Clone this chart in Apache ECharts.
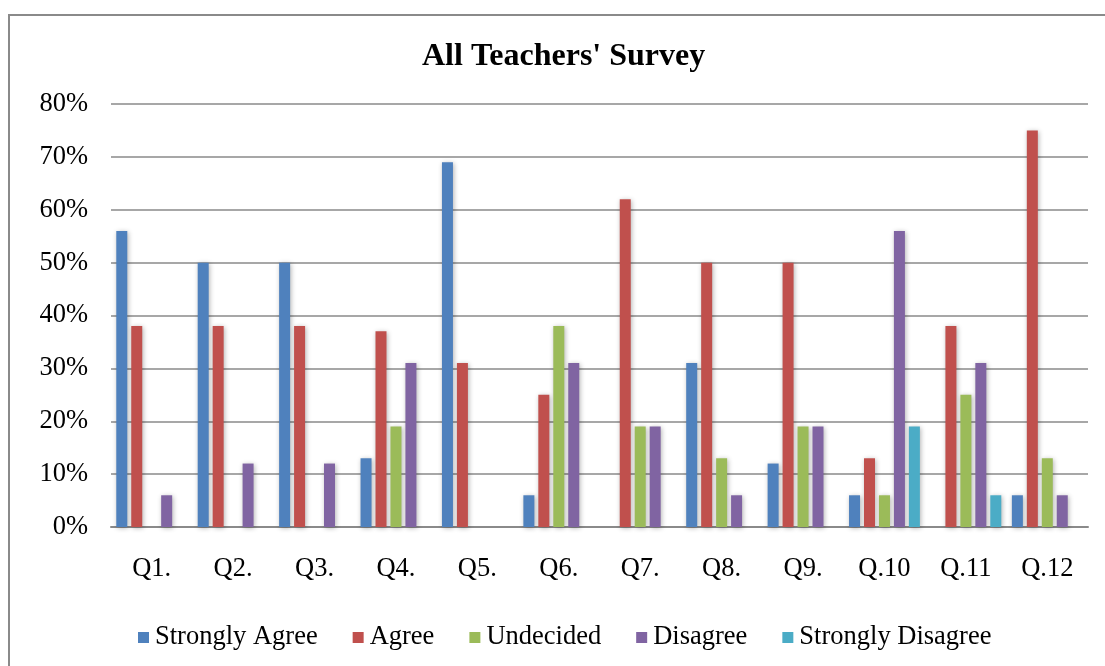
<!DOCTYPE html>
<html>
<head>
<meta charset="utf-8">
<script src="https://cdn.jsdelivr.net/npm/echarts@6/dist/echarts.min.js"></script>
<style>html,body{margin:0;padding:0;background:#fff}#c{width:1105px;height:666px}</style>
</head>
<body>
<div id="c"></div>
<script>
const categories = ['Q1.', 'Q2.', 'Q3.', 'Q4.', 'Q5.', 'Q6.', 'Q7.', 'Q8.', 'Q9.', 'Q.10', 'Q.11', 'Q.12'];
const yTicks = [0, 10, 20, 30, 40, 50, 60, 70, 80];
const stronglyAgree    = [56, 50, 50, 13, 69, 6, null, 31, 12, 6, null, 6];
const agree            = [38, 38, 38, 37, 31, 25, 62, 50, 50, 13, 38, 75];
const undecided        = [null, null, null, 19, null, 38, 19, 13, 19, 6, 25, 13];
const disagree         = [6, 12, 12, 31, null, 31, 19, 6, 19, 56, 31, 6];
const stronglyDisagree = [null, null, null, null, null, null, null, null, null, 19, 6, null];

const seriesNames = ['Strongly Agree', 'Agree', 'Undecided', 'Disagree', 'Strongly Disagree'];
const seriesData = [stronglyAgree, agree, undecided, disagree, stronglyDisagree];
const colors = ['#4F81BD', '#C0504D', '#9BBB59', '#8064A2', '#4BACC6'];
const font = '"Liberation Serif", "Times New Roman", serif';

const chart = echarts.init(document.getElementById('c'));
chart.setOption({
  animation: false,
  color: colors,
  title: {
    text: "All Teachers' Survey",
    left: 417, top: 36,
    textStyle: { fontFamily: font, fontWeight: 'bold', fontSize: 32, color: '#000' }
  },
  graphic: [{
    type: 'rect', shape: { x: 9, y: 15, width: 1120, height: 680 },
    style: { fill: 'none', stroke: '#8a8a8a', lineWidth: 2 }, z: -1
  }],
  legend: {
    left: 133, top: 619,
    itemWidth: 11, itemHeight: 11, itemGap: 35,
    icon: 'rect',
    textStyle: { fontFamily: font, fontSize: 26.5, color: '#000', padding: [0, 0, 0, 1] },
    data: seriesNames
  },
  grid: { left: 111, right: 17, top: 104, bottom: 139, containLabel: false },
  xAxis: {
    type: 'category', data: categories,
    axisLine: { lineStyle: { color: '#8a8a8a', width: 2 } },
    axisTick: { show: false },
    axisLabel: { fontFamily: font, fontSize: 26.5, color: '#000', margin: 29 }
  },
  yAxis: {
    type: 'value', min: 0, max: 80, interval: 10,
    axisLine: { show: false }, axisTick: { show: false },
    splitLine: { lineStyle: { color: '#8a8a8a', width: 1.5 } },
    axisLabel: { fontFamily: font, fontSize: 26.5, color: '#000', margin: 23,
      formatter: v => yTicks.includes(v) ? v + '%' : '' }
  },
  series: seriesNames.map((n, i) => ({
    name: n, type: 'bar', data: seriesData[i],
    barWidth: 11, barGap: '36%',
    itemStyle: { color: colors[i], shadowBlur: 5, shadowColor: 'rgba(0,0,0,0.3)', shadowOffsetX: 1, shadowOffsetY: 1 }
  }))
});
</script>
</body>
</html>
